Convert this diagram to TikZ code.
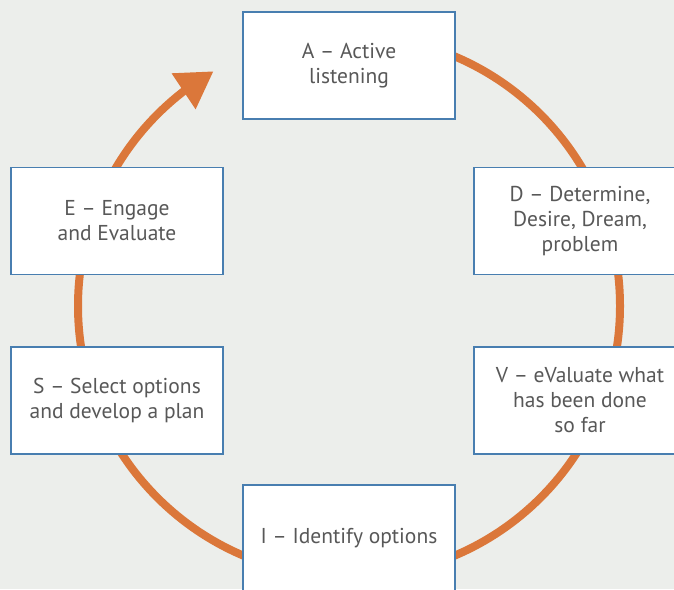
\documentclass[tikz,border=0pt]{standalone}
\usepackage{fontspec}
\setmainfont{PT Sans}
\usepackage{tikz}
\usetikzlibrary{arrows.meta,bending}
\definecolor{bgray}{RGB}{236,238,235}
\definecolor{oorange}{RGB}{219,119,58}
\definecolor{bblue}{RGB}{72,126,176}
\definecolor{tgray}{RGB}{88,88,88}

\begin{document}
\begin{tikzpicture}[x=1pt, y=1pt,
    stage/.style={draw=bblue, line width=1.2pt, fill=white, minimum width=212pt,
        minimum height=107pt, inner sep=0pt, align=center, text=tgray,
        font=\fontsize{21.5}{25}\selectfont},
    loopline/.style={draw=oorange, line width=8pt,
        -{Triangle[length=36pt, width=41pt]}}]
    \fill[bgray] (0,0) rectangle (674,589);
    \useasboundingbox (0,0) rectangle (674,589);
    \clip (0,0) rectangle (674,589);

    % the circle under the boxes
    \coordinate (ctr) at (349,283);
    \coordinate (start) at (349,554);
    \draw[loopline] (start) arc[start angle=90, end angle=-240, radius=271pt];

    \node[stage] (act) at (349,523.5) {A -- Active\\listening};
    \node[stage] (det) at (580,368) {D -- Determine,\\Desire, Dream,\\problem};
    \node[stage] (eval) at (580,188.5) {V -- eValuate what\\has been done\\so far};
    \node[stage] (ident) at (349,50.5) {I -- Identify options};
    \node[stage] (sel) at (117,188.5) {S -- Select options\\and develop a plan};
    \node[stage] (eng) at (117,368) {E -- Engage\\and Evaluate};
\end{tikzpicture}
\end{document}
